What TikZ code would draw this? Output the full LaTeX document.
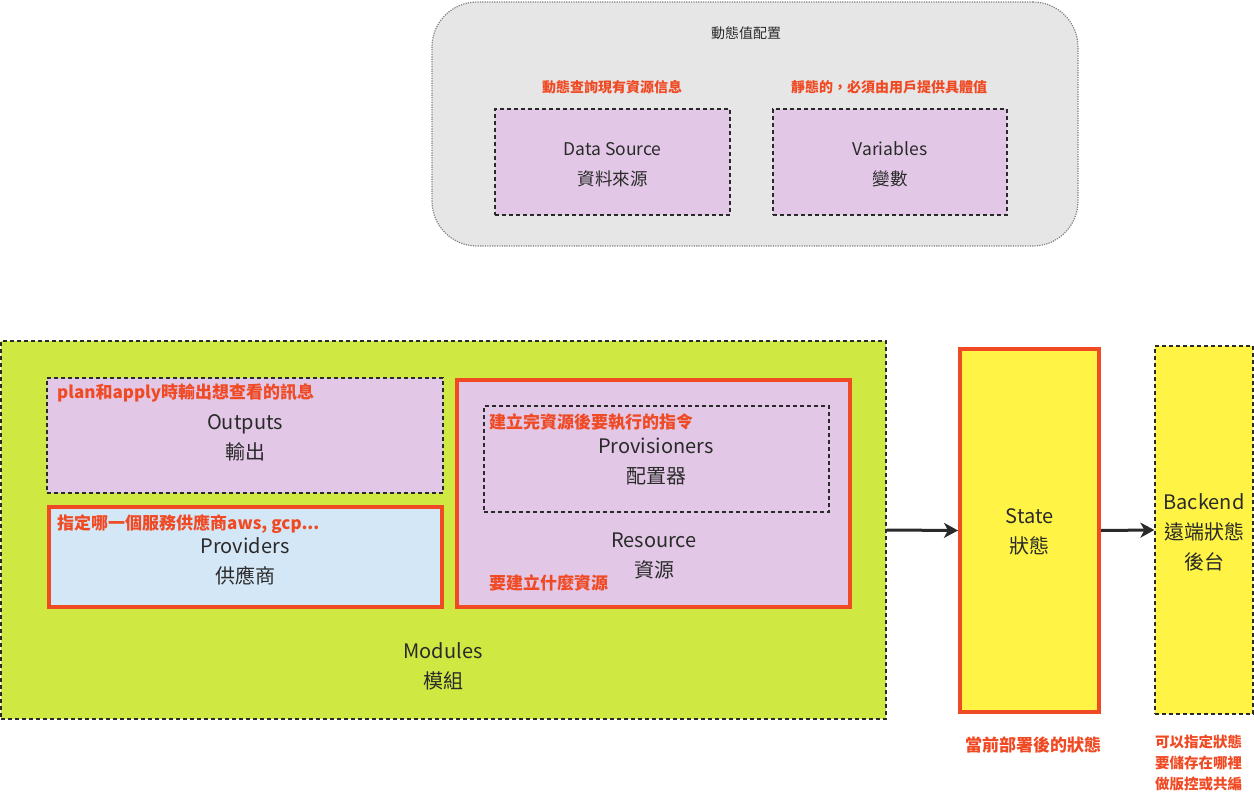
\documentclass[tikz,border=0pt]{standalone}
\usepackage{fontspec}
\setmainfont{Noto Sans CJK TC}
\usetikzlibrary{arrows.meta}
\definecolor{redc}{HTML}{F04A24}
\definecolor{limec}{HTML}{D0E842}
\definecolor{yelc}{HTML}{FFF445}
\definecolor{purc}{HTML}{E2C8E6}
\definecolor{bluec}{HTML}{D4E7F7}
\definecolor{grayc}{HTML}{E6E6E6}
\definecolor{darkc}{HTML}{2A2A2A}
\tikzset{
  dbox/.style={draw=darkc, line width=1.2pt, dash pattern=on 4pt off 3pt, inner sep=0pt, align=center},
  rbox/.style={draw=redc, line width=4pt, inner sep=0pt, align=center},
  main/.style={font=\fontsize{20}{30}\selectfont, text=darkc, align=center},
  small/.style={font=\fontsize{17.5}{30}\selectfont, text=darkc, align=center},
  note/.style={font=\bfseries\fontsize{17}{21}\selectfont, text=redc, inner sep=0pt},
  notes/.style={font=\bfseries\fontsize{14}{21}\selectfont, text=redc, inner sep=0pt},
  arr/.style={draw=darkc, line width=3pt, -{Stealth[length=14pt,width=15pt,inset=4pt]}}
}
\begin{document}
\begin{tikzpicture}[x=1pt,y=-1pt]
\useasboundingbox (0,0) rectangle (1254,797);
% top container
\node[draw=gray, fill=grayc, line width=1.2pt, dash pattern=on 1.2pt off 1.2pt, rounded corners=45pt, minimum width=646pt, minimum height=244pt, inner sep=0pt] (dyn) at (755,124) {};
\node[font=\fontsize{14}{18}\selectfont, text=darkc] (dyntitle) at (746,33) {動態值配置};
\node[notes] (dsnote) at (612,87) {動態查詢現有資源信息};
\node[notes] (varnote) at (889,87) {靜態的，必須由用戶提供具體值};
\node[dbox, fill=purc, minimum width=235pt, minimum height=106pt] (ds) at (612.5,162) {};
\node[small] (dstext) at (612.5,164.5) {Data Source\\資料來源};
\node[dbox, fill=purc, minimum width=234pt, minimum height=106pt] (var) at (890,162) {};
\node[small] (vartext) at (890,164.5) {Variables\\變數};
% modules
\node[dbox, fill=limec, minimum width=885pt, minimum height=378pt] (mod) at (443.5,530) {};
\node[main] (modtext) at (443,666) {Modules\\模組};
\node[dbox, fill=purc, minimum width=396pt, minimum height=115pt] (out) at (245,435.5) {};
\node[main] (outtext) at (245,437.5) {Outputs\\輸出};
\node[note, anchor=west] (outnote) at (57,393) {plan和apply時輸出想查看的訊息};
\node[rbox, fill=bluec, minimum width=393pt, minimum height=100pt] (prov) at (245.5,557) {};
\node[main] (provtext) at (245,561) {Providers\\供應商};
\node[note, anchor=west] (provnote) at (57,524) {指定哪一個服務供應商aws, gcp...};
\node[rbox, fill=purc, minimum width=393pt, minimum height=227pt] (res) at (653.5,493.5) {};
\node[dbox, minimum width=345pt, minimum height=106pt] (pvs) at (656.5,459) {};
\node[main] (pvstext) at (656,461.5) {Provisioners\\配置器};
\node[note, anchor=west] (pvsnote) at (489,422) {建立完資源後要執行的指令};
\node[main] (restext) at (654,556) {Resource\\資源};
\node[note, anchor=west] (resnote) at (489,583) {要建立什麼資源};
% state and backend
\node[rbox, fill=yelc, minimum width=139pt, minimum height=363pt] (state) at (1029.5,530.5) {};
\node[main] (statetext) at (1029.5,532) {State\\狀態};
\node[dbox, fill=yelc, minimum width=98pt, minimum height=368pt] (back) at (1204,530) {};
\node[main] (backtext) at (1204,532) {Backend\\遠端狀態\\後台};
\draw[arr] (mod.east) -- (state.west);
\draw[arr] (state.east) -- (back.west);
\node[note] (statenote) at (1033,745) {當前部署後的狀態};
\node[notes, anchor=north west, align=left, font=\bfseries\fontsize{14.5}{21}\selectfont] (backnote) at (1155,735) {可以指定狀態\\要儲存在哪裡\\做版控或共編};
\end{tikzpicture}
\end{document}
